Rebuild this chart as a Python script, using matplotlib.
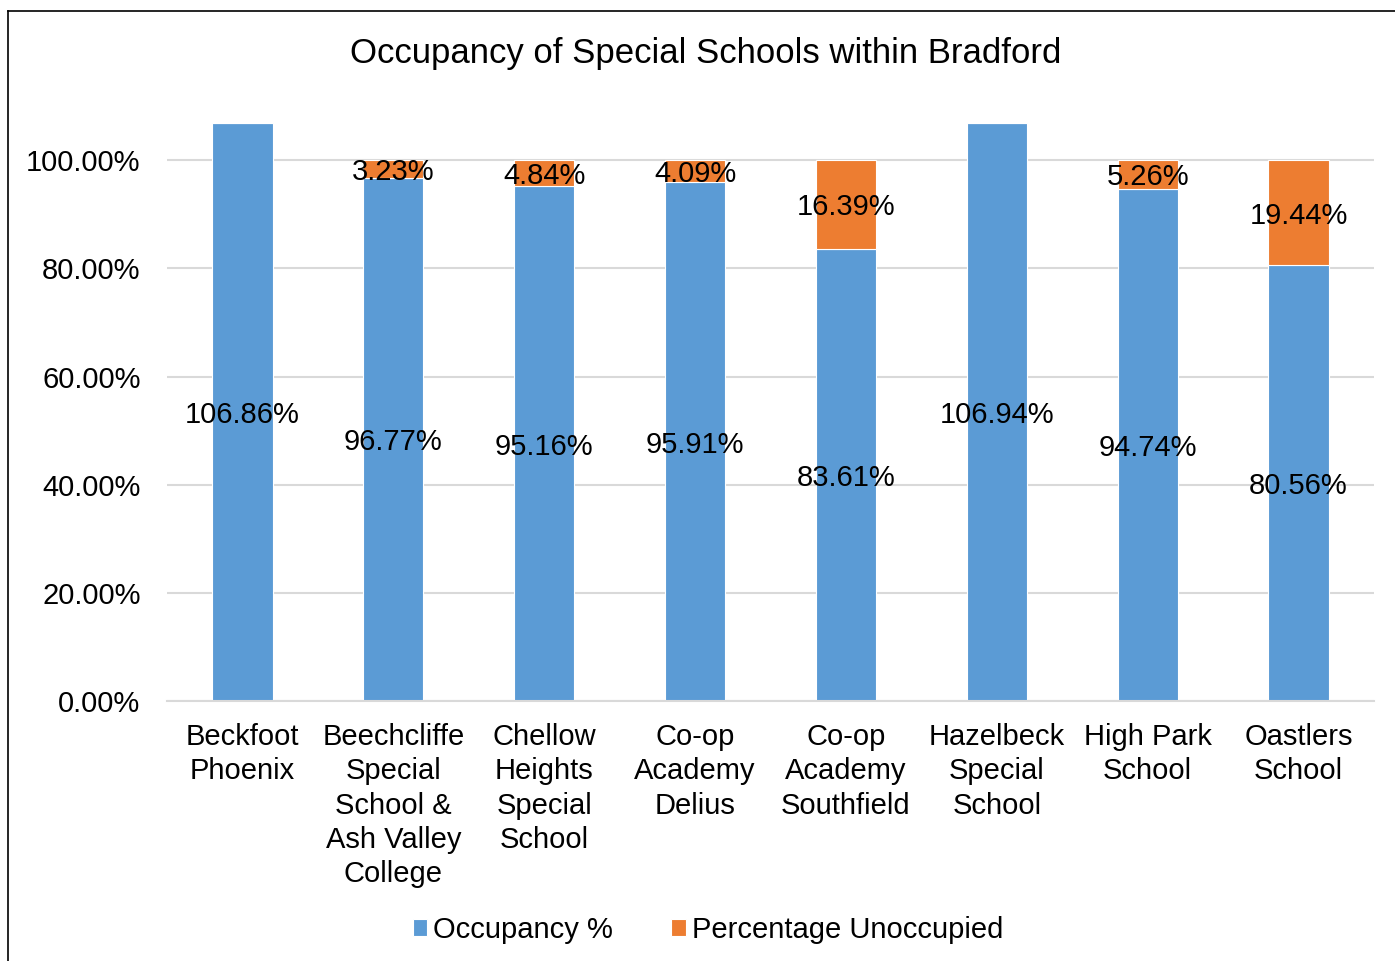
# Occupancy of Special Schools within Bradford - stacked bars

import numpy as np
import matplotlib.pyplot as plt
from matplotlib.lines import Line2D

plt.rcParams['font.family'] = ['Liberation Sans', 'DejaVu Sans']

schools = ['Beckfoot\nPhoenix', 'Beechcliffe\nSpecial\nSchool &\nAsh Valley\nCollege',
           'Chellow\nHeights\nSpecial\nSchool', 'Co-op\nAcademy\nDelius',
           'Co-op\nAcademy\nSouthfield', 'Hazelbeck\nSpecial\nSchool',
           'High Park\nSchool', 'Oastlers\nSchool']
occupancy = [1.0686, 0.9677, 0.9516, 0.9591, 0.8361, 1.0694, 0.9474, 0.8056]
unoccupied = [0.0, 0.0323, 0.0484, 0.0409, 0.1639, 0.0, 0.0526, 0.1944]

blue = '#5B9BD5'
orange = '#ED7D31'

fig = plt.figure(figsize=(13.95, 9.61), dpi=100)
ax = fig.add_axes([167 / 1395, 1 - 701 / 961, (1374 - 167) / 1395, 649 / 961])

x = np.arange(len(schools))
b1 = ax.bar(x, occupancy, width=0.4, color=blue, edgecolor='white', linewidth=0.8,
            label='Occupancy %', zorder=2)
b2 = ax.bar(x, unoccupied, width=0.4, bottom=occupancy, color=orange, edgecolor='white',
            linewidth=0.8, label='Percentage Unoccupied', zorder=2)

# data labels, centred in each segment
for i in range(len(schools)):
    ax.text(x[i], occupancy[i] / 2, '%.2f%%' % (occupancy[i] * 100),
            ha='center', va='center_baseline', fontsize=21)
    if unoccupied[i] > 0:
        ax.text(x[i], occupancy[i] + unoccupied[i] / 2, '%.2f%%' % (unoccupied[i] * 100),
                ha='center', va='center_baseline', fontsize=21)

ax.set_xlim(-0.5, len(schools) - 0.5)
ax.set_ylim(0, 1.2)
ax.set_yticks([0, 0.2, 0.4, 0.6, 0.8, 1.0])
ax.set_yticklabels(['%.2f%%' % (v * 100) for v in [0, 0.2, 0.4, 0.6, 0.8, 1.0]])
ax.set_xticks(x)
ax.set_xticklabels(schools, fontsize=21, linespacing=1.28)
ax.tick_params(axis='y', length=0, pad=19, labelsize=21)
ax.tick_params(axis='x', length=0, pad=16)
ax.grid(axis='y', color='#D9D9D9', linewidth=1.5, zorder=0)
ax.set_axisbelow(True)
for s in ['top', 'right', 'left']:
    ax.spines[s].set_visible(False)
ax.spines['bottom'].set_color('#D9D9D9')
ax.spines['bottom'].set_linewidth(1.5)

fig.text(706 / 1395, 1 - 53 / 961, 'Occupancy of Special Schools within Bradford',
         ha='center', va='center', fontsize=25)

fig.legend(handles=[b1, b2], loc='center', bbox_to_anchor=(708 / 1395, 1 - 930 / 961),
           ncol=2, frameon=False, fontsize=21, handlelength=0.5, handleheight=0.5,
           handletextpad=0.2, columnspacing=2.0)

# outer border (left and top edges visible)
fig.add_artist(Line2D([8 / 1395, 8 / 1395], [0, 1 - 11 / 961], color='black', linewidth=1.2,
                      transform=fig.transFigure))
fig.add_artist(Line2D([8 / 1395, 1], [1 - 11 / 961, 1 - 11 / 961], color='black', linewidth=1.2,
                      transform=fig.transFigure))

plt.savefig('out.png', dpi=100)
